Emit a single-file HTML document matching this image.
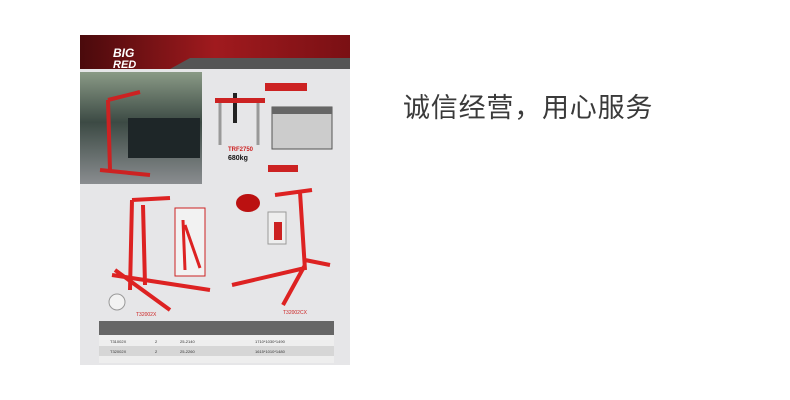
<!DOCTYPE html>
<html><head><meta charset="utf-8"><style>
body{margin:0;width:790px;height:400px;background:#fff;overflow:hidden;position:relative;font-family:"Liberation Sans","Noto Sans CJK SC",sans-serif}
.t{position:absolute;left:403px;top:86px;font-size:27px;color:#3a3a3a;letter-spacing:0.8px;font-family:"Liberation Sans","Noto Sans CJK SC",sans-serif}
</style></head><body>
<svg width="790" height="400" style="position:absolute;left:0;top:0">
<defs>
<linearGradient id="hd" x1="0" x2="1"><stop offset="0" stop-color="#4a0a0c"/><stop offset="0.5" stop-color="#a01a1e"/><stop offset="1" stop-color="#7a1014"/></linearGradient>
<linearGradient id="ph" x1="0" y1="0" x2="0" y2="1"><stop offset="0" stop-color="#8a9a86"/><stop offset="0.45" stop-color="#3c4a44"/><stop offset="1" stop-color="#8a8d90"/></linearGradient>
</defs>
<rect x="80" y="35" width="270" height="330" fill="#e6e6e8"/>
<rect x="80" y="35" width="270" height="34" fill="url(#hd)"/>
<polygon points="170,69 190,58 350,58 350,69" fill="#555"/>
<text x="113" y="57" font-size="12" font-weight="bold" font-style="italic" fill="#fff">BIG</text>
<text x="113" y="68" font-size="11" font-weight="bold" font-style="italic" fill="#fff">RED</text>
<rect x="80" y="72" width="122" height="112" fill="url(#ph)"/>
<rect x="128" y="118" width="72" height="40" fill="#1e2628"/>
<path d="M108 100 L110 170 M108 100 L140 92 M100 170 L150 175" stroke="#c22" stroke-width="4" fill="none"/>
<!-- balance beam -->
<rect x="233" y="93" width="4" height="30" fill="#222"/>
<rect x="215" y="98" width="50" height="5" fill="#c22"/>
<path d="M220 103 L220 145 M258 103 L258 145" stroke="#999" stroke-width="3"/>
<rect x="265" y="83" width="42" height="8" fill="#c22"/>
<rect x="272" y="107" width="60" height="42" fill="#ccc" stroke="#555" stroke-width="1"/>
<rect x="272" y="107" width="60" height="7" fill="#666"/>
<text x="228" y="151" font-size="6" fill="#c22" font-weight="bold">TRF2750</text>
<text x="228" y="160" font-size="7" fill="#111" font-weight="bold">680kg</text>
<rect x="268" y="165" width="30" height="7" fill="#c22"/>
<!-- left crane -->
<path d="M132 200 L130 290 M132 200 L170 198 M112 275 L210 290 M115 270 L170 310 M143 205 L145 285" stroke="#d22" stroke-width="4" fill="none"/>
<rect x="175" y="208" width="30" height="68" fill="#f2f2f2" stroke="#c22" stroke-width="1"/>
<path d="M183 220 L185 270 M185 225 L200 268" stroke="#d22" stroke-width="3"/>
<!-- right crane -->
<path d="M300 192 L305 270 M275 195 L312 190 M305 268 L232 285 M305 265 L283 305 M305 260 L330 265" stroke="#d22" stroke-width="4" fill="none"/>
<ellipse cx="248" cy="203" rx="12" ry="9" fill="#b11"/>
<rect x="268" y="212" width="18" height="32" fill="#eee" stroke="#999"/>
<rect x="274" y="222" width="8" height="18" fill="#c22"/>
<circle cx="117" cy="302" r="8" fill="#f2f2f2" stroke="#999"/>
<text x="136" y="316" font-size="5" fill="#c22">T32002X</text>
<text x="283" y="314" font-size="5" fill="#c22">T32002CX</text>
<!-- table -->
<rect x="99" y="321" width="235" height="42" fill="#eee"/>
<rect x="99" y="321" width="235" height="14" fill="#666"/>
<rect x="99" y="346" width="235" height="10" fill="#d6d6d6"/>
<g font-size="4" fill="#333"><text x="110" y="343">T31002X</text><text x="155" y="343">2</text><text x="180" y="343">25-2140</text><text x="255" y="343">1710*1030*1490</text>
<text x="110" y="353">T32002X</text><text x="155" y="353">2</text><text x="180" y="353">25-2260</text><text x="255" y="353">1615*1010*1480</text></g>
</svg>
<div class="t">诚信经营，用心服务</div>
</body></html>
